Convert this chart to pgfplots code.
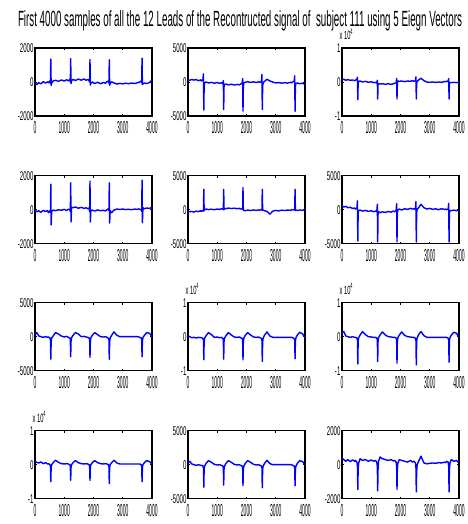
\documentclass[border=0pt]{standalone}
\usepackage{graphicx}
\usepackage{fontspec}
\setmainfont{Liberation Sans}
\newfontfamily\ytf[FakeStretch=0.48]{Liberation Sans}
\newfontfamily\xtf[FakeStretch=0.29]{Liberation Sans}
\usepackage{pgfplots}
\pgfplotsset{compat=1.18}
\usepackage{pgfplotstable}

\pgfplotstableread{
x a b c d e f g h i j k l
0 -60 300 0.06 -20 -200 600 300 0.02 0.12 0.09 300 400
60 -150 250 0.08 -120 -300 400 600 0.0 0.15 0.07 500 300
130 -40 380 0.05 -60 -250 500 100 -0.03 0.02 0.05 100 200
200 -110 280 0.07 -150 -350 300 0 -0.02 0.0 0.08 0 300
280 20 350 0.05 -40 -200 350 -100 -0.04 -0.02 0.03 -100 180
360 -60 200 0.06 -100 -280 200 0 -0.02 0.0 0.06 0 280
430 10 320 0.04 -50 -150 250 -80 -0.03 -0.02 0.02 -100 200
460 -40 150 0.05 -180 -250 100 -50 -0.03 -0.02 0.03 -100 250
510 60 400 0.08 -60 -100 300 -200 -0.05 -0.04 0.0 -200 150
528 -80 1200 0.14 -150 -200 1300 -500 -0.1 -0.1 -0.05 -500 -100
540 1350 -4100 -0.52 1500 3000 -4600 -3300 -0.68 -0.8 -0.5 -3300 -1460
552 -200 -600 -0.05 -900 -150 -500 -800 -0.15 -0.15 -0.08 -700 -300
570 -60 -100 0.02 -100 0 -100 -200 -0.04 -0.03 0.0 -200 100
620 60 0 0.03 -20 100 -50 100 0.03 0.05 0.06 200 350
700 100 -150 0.0 -60 20 -200 600 0.12 0.15 0.13 600 250
800 40 -50 0.02 0 80 -100 400 0.06 0.06 0.07 350 300
900 120 -180 -0.01 -30 0 -250 100 -0.02 0.0 0.03 50 200
1000 60 -80 0.01 20 100 -150 -50 -0.01 -0.01 0.02 -50 280
1080 130 -200 -0.02 -40 50 -300 50 -0.03 -0.02 0.03 0 200
1140 70 -120 -0.01 30 150 -200 -100 -0.02 -0.02 0.02 -100 250
1190 160 -250 -0.03 0 80 -250 -200 -0.05 -0.04 0.0 -200 150
1208 0 200 0.05 -100 0 800 -400 -0.1 -0.1 -0.05 -500 -100
1220 1380 -4050 -0.5 1580 3000 -4750 -2950 -0.66 -0.73 -0.46 -3000 -1540
1232 -100 -700 -0.08 -720 0 -700 -700 -0.15 -0.15 -0.08 -700 -300
1250 80 -350 -0.05 150 200 -300 -150 -0.04 -0.03 0.0 -200 200
1300 150 -300 -0.06 120 150 -450 200 0.03 0.05 0.06 200 450
1380 90 -420 -0.05 160 250 -300 600 0.12 0.14 0.12 600 350
1480 170 -330 -0.07 90 180 -400 400 0.05 0.05 0.06 350 300
1580 110 -450 -0.05 140 230 -250 0 -0.01 0.0 0.03 50 250
1680 180 -350 -0.07 80 150 -350 50 -0.02 -0.01 0.02 -50 300
1750 100 -420 -0.05 120 200 -200 -50 -0.01 -0.02 0.03 0 220
1800 150 -300 -0.04 60 100 -300 -100 -0.03 -0.02 0.02 -100 250
1850 80 -200 -0.02 100 150 -100 -200 -0.05 -0.04 0.0 -200 150
1868 0 500 0.1 -100 50 900 -400 -0.1 -0.1 -0.05 -500 -100
1880 1320 -4300 -0.5 1680 3270 -4750 -3050 -0.68 -0.78 -0.46 -3100 -1460
1892 -180 -800 -0.05 -720 0 -500 -700 -0.15 -0.15 -0.08 -700 -300
1910 -80 -100 0.03 -50 -100 0 -150 -0.04 -0.03 0.0 -200 100
1960 0 -50 0.02 -20 -150 100 200 0.04 0.05 0.06 200 300
2040 -90 50 0.03 -80 -50 -50 600 0.12 0.14 0.12 600 250
2140 -20 -60 0.01 -10 -120 150 300 0.05 0.04 0.06 350 200
2240 -100 20 0.03 -60 -30 50 0 -0.01 0.0 0.03 50 150
2340 -30 -80 0.02 -30 -100 200 -50 -0.02 -0.01 0.02 -50 250
2410 -70 30 0.04 -70 -20 100 0 -0.01 -0.02 0.03 0 150
2460 20 -50 0.02 0 -80 150 -100 -0.03 -0.02 0.02 -100 200
2510 60 100 0.04 60 50 50 -250 -0.05 -0.05 0.0 -200 100
2528 -60 1100 0.15 -60 -50 1200 -500 -0.12 -0.12 -0.06 -500 -200
2540 1300 -4050 -0.5 1580 3000 -4750 -3330 -0.73 -0.83 -0.56 -3400 -1600
2552 -200 -600 -0.04 -780 -100 -500 -800 -0.15 -0.15 -0.08 -700 -400
2570 -80 -100 0.02 -50 -50 100 -200 -0.04 -0.03 0.0 -200 0
2620 10 100 0.06 -180 -150 300 200 0.05 0.06 0.06 200 200
2700 -60 400 0.11 -20 -250 800 700 0.14 0.15 0.13 650 500
2800 -120 150 0.04 40 -650 300 200 0.02 0.03 0.05 150 100
2900 -80 0 0.0 20 -200 100 0 -0.02 -0.02 0.02 0 50
3000 -110 -150 -0.01 40 -100 200 0 -0.02 -0.02 0.02 0 80
3100 -70 -80 0.0 10 -170 50 0 -0.02 -0.02 0.02 0 100
3200 -100 -180 -0.01 30 -60 150 0 -0.02 -0.02 0.02 0 80
3300 -60 -100 0.0 0 -120 0 0 -0.02 -0.02 0.02 0 120
3400 -90 -160 -0.01 40 -40 150 0 -0.02 -0.02 0.02 0 100
3500 -50 -50 0.01 20 -100 50 0 -0.02 -0.02 0.02 0 150
3540 -20 -120 0.02 50 0 100 -30 -0.02 -0.02 0.02 0 120
3580 0 0 0.01 30 -50 0 -100 -0.03 -0.02 0.02 -100 200
3630 60 150 0.04 0 20 150 -200 -0.06 -0.05 0.0 -200 150
3648 -40 900 0.1 -100 -50 950 -500 -0.1 -0.1 -0.05 -500 -100
3660 1400 -4300 -0.5 1740 3000 -4750 -2950 -0.65 -0.75 -0.5 -3100 -1600
3672 -150 -600 -0.04 -760 -100 -500 -700 -0.12 -0.12 -0.08 -700 -300
3690 -120 -200 -0.01 120 -50 -100 -150 -0.03 -0.03 0.0 -200 100
3740 -60 -150 -0.02 60 -120 -150 200 0.05 0.05 0.06 200 300
3820 -90 -250 -0.01 100 -30 -50 600 0.13 0.13 0.12 600 200
3920 -30 -180 -0.02 80 -100 -150 500 0.08 0.1 0.09 450 250
3960 60 -280 -0.01 120 0 -80 200 0.02 0.03 0.05 200 150
4000 30 -150 -0.02 100 100 -150 0 -0.02 -0.01 0.02 0 180
}\ecg

\pgfplotsset{
  ecg/.style={
    anchor=north west, scale only axis, width=87.75pt, height=51pt,
    xmin=0, xmax=4000, clip=false,
    xtick={0,1000,2000,3000,4000}, xticklabels={0,1000,2000,3000,4000},
    tick align=inside, major tick length=1.5pt,
    every tick/.style={black, line width=0.6pt},
    axis line style={black, line width=1.1pt},
    xticklabel style={font=\xtf\fontsize{13}{13}\selectfont, yshift=-4pt, inner sep=0pt},
    yticklabel style={font=\ytf\fontsize{9.5}{9.5}\selectfont, inner sep=1pt},
  },
  y2/.style={ymin=-2000, ymax=2000, ytick={-2000,0,2000}, yticklabels={-2000,0,2000}},
  y5/.style={ymin=-5000, ymax=5000, ytick={-5000,0,5000}, yticklabels={-5000,0,5000}},
  y1/.style={ymin=-1, ymax=1, ytick={-1,0,1}, yticklabels={-1,0,1}},
  sig/.style={blue, line width=1.05pt, mark=none, line join=round},
}
\newcommand{\xten}{\node[anchor=base west, inner sep=0pt, font=\ytf\fontsize{9}{9}\selectfont] at (rel axis cs:0,1) [yshift=6.5pt, xshift=-2pt] {x 10\textsuperscript{4}};}

\begin{document}
\begin{tikzpicture}
\path[use as bounding box] (0,0) rectangle (350.25pt,-393pt);
\node[anchor=base, inner sep=0pt] at (180pt,-20pt) {\resizebox{333pt}{\height}{\fontsize{16.5}{18}\selectfont First 4000 samples of all the 12 Leads of the Recontructed signal of\ \ subject 111 using 5 Eiegn Vectors}};

% row 1
\begin{axis}[ecg, y2, at={(26.25pt,-36pt)}]
\addplot[sig] table[x=x, y=a] {\ecg};
\end{axis}
\begin{axis}[ecg, y5, at={(141pt,-36pt)}]
\addplot[sig] table[x=x, y=b] {\ecg};
\end{axis}
\begin{axis}[ecg, y1, at={(256.5pt,-36pt)}]
\addplot[sig] table[x=x, y=c] {\ecg};
\xten
\end{axis}
% row 2
\begin{axis}[ecg, y2, at={(26.25pt,-131.8pt)}]
\addplot[sig] table[x=x, y=d] {\ecg};
\end{axis}
\begin{axis}[ecg, y5, at={(141pt,-131.8pt)}]
\addplot[sig] table[x=x, y=e] {\ecg};
\end{axis}
\begin{axis}[ecg, y5, at={(256.5pt,-131.8pt)}]
\addplot[sig] table[x=x, y=f] {\ecg};
\end{axis}
% row 3
\begin{axis}[ecg, y5, at={(26.25pt,-227pt)}]
\addplot[sig] table[x=x, y=g] {\ecg};
\end{axis}
\begin{axis}[ecg, y1, at={(141pt,-227pt)}]
\addplot[sig] table[x=x, y=h] {\ecg};
\xten
\end{axis}
\begin{axis}[ecg, y1, at={(256.5pt,-227pt)}]
\addplot[sig] table[x=x, y=i] {\ecg};
\xten
\end{axis}
% row 4
\begin{axis}[ecg, y1, at={(26.25pt,-323pt)}]
\addplot[sig] table[x=x, y=j] {\ecg};
\xten
\end{axis}
\begin{axis}[ecg, y5, at={(141pt,-323pt)}]
\addplot[sig] table[x=x, y=k] {\ecg};
\end{axis}
\begin{axis}[ecg, y2, at={(256.5pt,-323pt)}]
\addplot[sig] table[x=x, y=l] {\ecg};
\end{axis}
\end{tikzpicture}
\end{document}
